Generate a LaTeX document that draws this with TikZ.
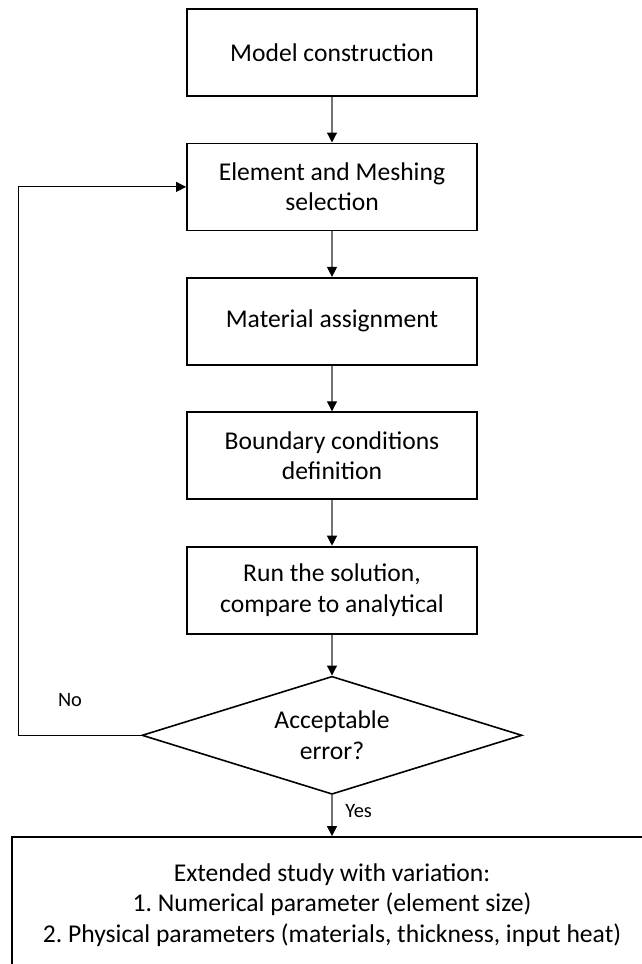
\documentclass[tikz,border=0pt]{standalone}
\usepackage{fontspec}
\setmainfont{Carlito}
\usetikzlibrary{arrows.meta,positioning,shapes.geometric}
\frenchspacing

\begin{document}
\begin{tikzpicture}[>={Triangle[length=5pt,width=5pt,color=black]},node distance=22.8pt,
  box/.style={draw,line width=0.9pt,minimum width=145pt,minimum height=43.5pt,align=center,font=\fontsize{12.8pt}{15.3pt}\selectfont},
  check/.style={draw,diamond,shape aspect=3.2,line width=0.8pt,minimum width=190pt,minimum height=59pt,inner sep=0pt,align=center,font=\fontsize{12.8pt}{15.3pt}\selectfont},
  flow/.style={draw=black!55,line width=0.6pt},
  lbl/.style={font=\fontsize{10.2pt}{12pt}\selectfont}]

\path[use as bounding box,clip] (0,0) rectangle (321pt,-482pt);

\node[box] (model) at (166pt,-26.25pt) {Model construction};
\node[box] (mesh)     [below=of model] {Element and Meshing\\selection};
\node[box] (material) [below=of mesh]  {Material assignment};
\node[box] (boundary) [below=of material] {Boundary conditions\\definition};
\node[box] (run)      [below=of boundary] {Run the solution,\\compare to analytical};

\node[check] (accept) [below=20.5pt of run] {Acceptable\\error?};

\node[box, minimum width=320pt, minimum height=68pt] (study) [below=20.5pt of accept]
  {Extended study with variation:\\1. Numerical parameter (element size)\\2. Physical parameters (materials, thickness, input heat)};

\coordinate (loopx) at (9pt,0);
\node[lbl] (no) at (35pt,-350pt) {No};

\path (model)    edge[flow,->] (mesh)
      (mesh)     edge[flow,->] (material)
      (material) edge[flow,->] (boundary)
      (boundary) edge[flow,->] (run)
      (run)      edge[flow,->] (accept);
\path (accept) edge[flow,->] node[lbl,right=3pt,pos=0.38] (yes) {Yes} (study);

\draw[flow,draw=black,line width=0.5pt,->] (accept.west) -- (accept.west -| loopx) |- (mesh.west);
\end{tikzpicture}
\end{document}
